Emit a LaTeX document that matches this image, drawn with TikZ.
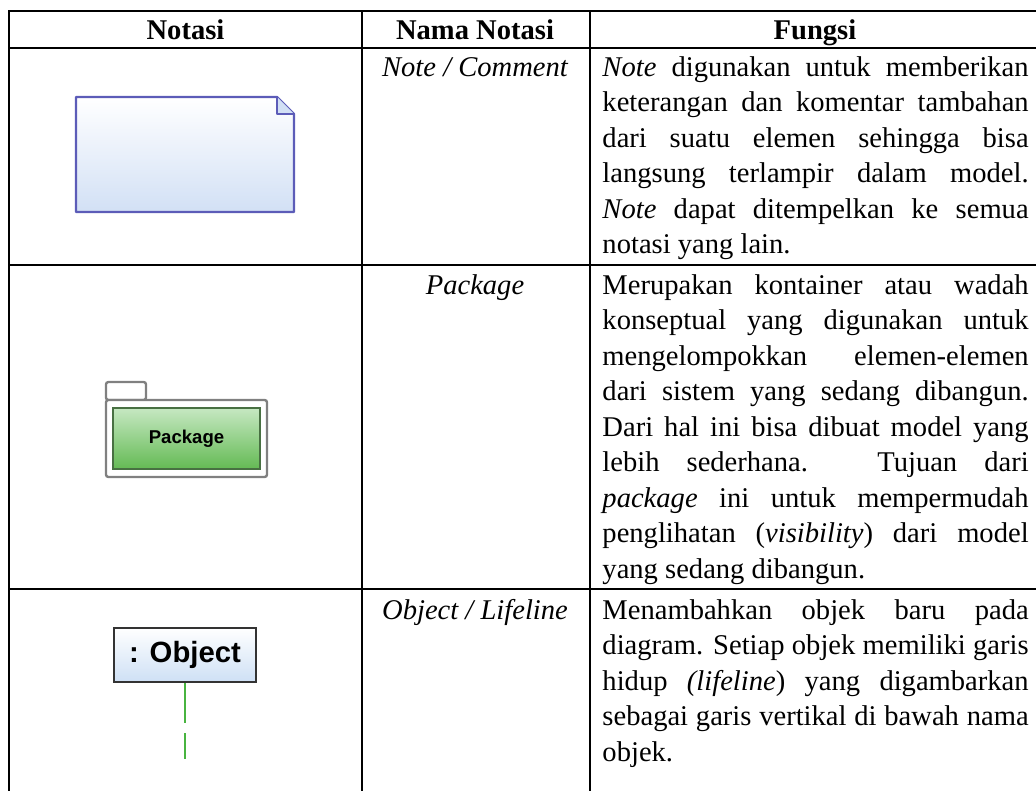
\documentclass[tikz,border=0pt]{standalone}
\usepackage{fontspec}
\setmainfont{Liberation Serif}
\newfontfamily\umlfont{Liberation Sans}
\usetikzlibrary{positioning}
\definecolor{noteline}{RGB}{92,92,184}
\definecolor{notefill}{RGB}{210,224,245}
\definecolor{pkgline}{RGB}{128,128,128}
\definecolor{pkgtop}{RGB}{198,232,194}
\definecolor{pkgbot}{RGB}{100,186,84}
\definecolor{pkgedge}{RGB}{72,112,66}
\definecolor{objfill}{RGB}{206,224,245}
\definecolor{lifegreen}{RGB}{72,180,64}
\newcommand{\upx}{0.42pt}
\tolerance=10000
\hyphenpenalty=10000

\begin{document}
\begin{tikzpicture}[x={(\upx,0pt)},y={(0pt,-\upx)},
  rule/.style={line width=0.9pt,line cap=rect},
  head/.style={font=\fontsize{12pt}{14.9pt}\selectfont\bfseries,inner sep=0pt,anchor=base},
  notasi/.style={font=\fontsize{12pt}{14.9pt}\selectfont\itshape,inner sep=0pt,anchor=base},
  fungsi/.style={font=\fontsize{12pt}{14.91pt}\selectfont,inner sep=0pt,anchor=base west,
    text width=179pt,align=justify}]
  \useasboundingbox (0,0) rectangle (1036,790);
  % garis tabel
  \draw[rule] (1036,11) -| (9,790);
  \draw[rule] (9,48) -- (1036,48);
  \draw[rule] (9,265) -- (1036,265);
  \draw[rule] (9,589) -- (1036,589);
  \draw[rule] (362,11) -- (362,790);
  \draw[rule] (590,11) -- (590,790);
  % judul kolom
  \node[head] (hNotasi) at (185.5,39) {Notasi};
  \node[head] (hNama) at (475,39) {Nama Notasi};
  \node[head] (hFungsi) at (815,39) {Fungsi};
  % baris 1: note
  \draw[noteline,line width=1pt,line join=round,top color=white,bottom color=notefill]
    (76,97) -- (277,97) -- (294,114) -- (294,212) -- (76,212) -- cycle;
  \draw[noteline,line width=1pt,line join=round,fill=notefill] (277,97) -- (277,114) -- (294,114);
  \node[notasi] (nNote) at (475,76) {Note / Comment};
  \node[fungsi] (fNote) at (602,76) {\textit{Note} digunakan untuk memberikan\linebreak
    keterangan dan komentar tambahan\linebreak
    dari suatu elemen sehingga bisa\linebreak
    langsung terlampir dalam model.\linebreak
    \textit{Note} dapat ditempelkan ke semua\linebreak
    notasi yang lain.};
  % baris 2: package
  \draw[pkgline,line width=1pt,rounded corners=1pt] (106,400) rectangle (146,382);
  \draw[pkgline,line width=1pt,rounded corners=1pt,fill=white] (106,400) rectangle (267,477);
  \node[draw=pkgedge,line width=0.7pt,top color=pkgtop,bottom color=pkgbot,inner sep=0pt,
    minimum width=147*\upx,minimum height=61*\upx,
    font=\umlfont\bfseries\fontsize{7.8pt}{9pt}\selectfont] (pkg) at (186.5,438.5) {Package};
  \node[notasi] (nPkg) at (475,294) {Package};
  \node[fungsi] (fPkg) at (602,294) {Merupakan kontainer atau wadah\linebreak
    konseptual yang digunakan untuk\linebreak
    mengelompokkan elemen-elemen\linebreak
    dari sistem yang sedang dibangun.\linebreak
    Dari hal ini bisa dibuat model yang\linebreak
    lebih sederhana. Tujuan dari\linebreak
    \textit{package} ini untuk mempermudah\linebreak
    penglihatan (\textit{visibility}) dari model\linebreak
    yang sedang dibangun.};
  % baris 3: object / lifeline
  \node[draw=black!80,line width=0.9pt,top color=white,bottom color=objfill,inner sep=0pt,
    minimum width=142*\upx,minimum height=54*\upx,
    font=\umlfont\bfseries\fontsize{12.3pt}{14pt}\selectfont] (obj) at (185,655) {: Object};
  \draw[lifegreen,line width=0.9pt,dash pattern=on 16.8pt off 4.2pt] (obj.south) -- ++(0,76);
  \node[notasi] (nObj) at (475,619) {Object / Lifeline};
  \node[fungsi] (fObj) at (602,619) {Menambahkan objek baru pada\linebreak
    diagram. Setiap objek memiliki garis\linebreak
    hidup \textit{(lifeline}) yang digambarkan\linebreak
    sebagai garis vertikal di bawah nama\linebreak
    objek.};
\end{tikzpicture}
\end{document}
